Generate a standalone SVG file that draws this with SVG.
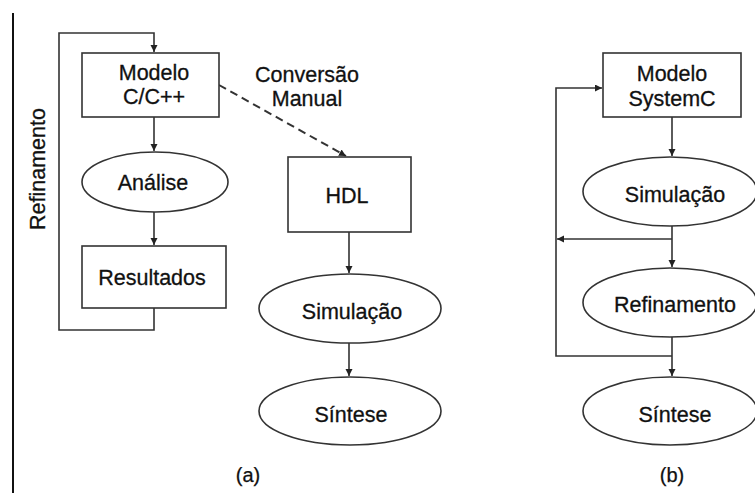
<svg xmlns="http://www.w3.org/2000/svg" width="755" height="493" viewBox="0 0 755 493">
  <style>
    .box { fill: #ffffff; stroke: #333333; stroke-width: 1.6; }
    .ell { fill: #ffffff; stroke: #333333; stroke-width: 1.6; }
    .lbl { font-family: "Liberation Sans", Arial, sans-serif; font-size: 21.5px; fill: #111111; stroke: #111111; stroke-width: 0.3; text-anchor: middle; }
    .cap { font-family: "Liberation Sans", Arial, sans-serif; font-size: 20px; fill: #111111; stroke: #111111; stroke-width: 0.25; text-anchor: middle; }
    .wire { fill: none; stroke: #333333; stroke-width: 1.6; }
    .dash { fill: none; stroke: #333333; stroke-width: 2; stroke-dasharray: 8 5; }
  </style>
  <defs>
    <marker id="arrow" markerUnits="userSpaceOnUse" markerWidth="8" markerHeight="8" refX="7" refY="3.5" orient="auto">
      <path d="M0,0 L7,3.5 L0,7 z" fill="#222222"/>
    </marker>
  </defs>

  <rect width="755" height="493" fill="#ffffff"/>

  <!-- page border on the left -->
  <line x1="13" y1="13" x2="13" y2="493" stroke="#111111" stroke-width="2"/>

  <!-- connectors -->
  <g id="connectors">
    <!-- (a) -->
    <polyline class="wire" points="154,308 154,330 59,330 59,33 154,33 154,52" marker-end="url(#arrow)"/>
    <line class="wire" x1="154" y1="117" x2="154" y2="151" marker-end="url(#arrow)"/>
    <line class="wire" x1="154" y1="212" x2="154" y2="245" marker-end="url(#arrow)"/>
    <line class="dash" x1="219" y1="85" x2="346" y2="156" marker-end="url(#arrow)"/>
    <line class="wire" x1="349" y1="232" x2="349" y2="273" marker-end="url(#arrow)"/>
    <line class="wire" x1="349" y1="343" x2="349" y2="376" marker-end="url(#arrow)"/>
    <!-- (b) -->
    <line class="wire" x1="672" y1="117" x2="672" y2="156" marker-end="url(#arrow)"/>
    <line class="wire" x1="672" y1="226" x2="672" y2="267" marker-end="url(#arrow)"/>
    <line class="wire" x1="672" y1="337" x2="672" y2="376" marker-end="url(#arrow)"/>
    <line class="wire" x1="672" y1="239" x2="557" y2="239" marker-end="url(#arrow)"/>
    <polyline class="wire" points="672,356 556,356 556,88 602,88" marker-end="url(#arrow)"/>
  </g>

  <!-- loop label -->
  <text class="lbl" transform="translate(45,169) rotate(-90)">Refinamento</text>
  <text class="lbl" x="307" y="82">Conversão</text>
  <text class="lbl" x="307" y="106">Manual</text>

  <!-- flow (a) -->
  <g id="modelo-cpp">
    <rect class="box" x="82" y="53" width="137" height="64"/>
    <text class="lbl" x="154" y="80">Modelo</text>
    <text class="lbl" x="154" y="104">C/C++</text>
  </g>
  <g id="analise">
    <ellipse class="ell" cx="155" cy="182" rx="73" ry="30"/>
    <text class="lbl" x="153" y="190">Análise</text>
  </g>
  <g id="resultados">
    <rect class="box" x="82" y="246" width="144" height="62"/>
    <text class="lbl" x="152" y="285">Resultados</text>
  </g>
  <g id="hdl">
    <rect class="box" x="288" y="157" width="123" height="75"/>
    <text class="lbl" x="347" y="203">HDL</text>
  </g>
  <g id="simulacao-a">
    <ellipse class="ell" cx="350" cy="308.5" rx="91" ry="34.5"/>
    <text class="lbl" x="352" y="319">Simulação</text>
  </g>
  <g id="sintese-a">
    <ellipse class="ell" cx="350" cy="411" rx="91" ry="34"/>
    <text class="lbl" x="351" y="422">Síntese</text>
  </g>
  <text class="cap" x="248" y="482">(a)</text>

  <!-- flow (b) -->
  <g id="modelo-systemc">
    <rect class="box" x="603" y="53" width="138" height="64"/>
    <text class="lbl" x="672" y="81">Modelo</text>
    <text class="lbl" x="672" y="106">SystemC</text>
  </g>
  <g id="simulacao-b">
    <ellipse class="ell" cx="670" cy="191.5" rx="87" ry="34.5"/>
    <text class="lbl" x="675" y="202">Simulação</text>
  </g>
  <g id="refinamento">
    <ellipse class="ell" cx="670" cy="302.5" rx="87" ry="34.5"/>
    <text class="lbl" x="675" y="312">Refinamento</text>
  </g>
  <g id="sintese-b">
    <ellipse class="ell" cx="670" cy="411" rx="87" ry="34"/>
    <text class="lbl" x="675" y="422">Síntese</text>
  </g>
  <text class="cap" x="672" y="482">(b)</text>
</svg>
